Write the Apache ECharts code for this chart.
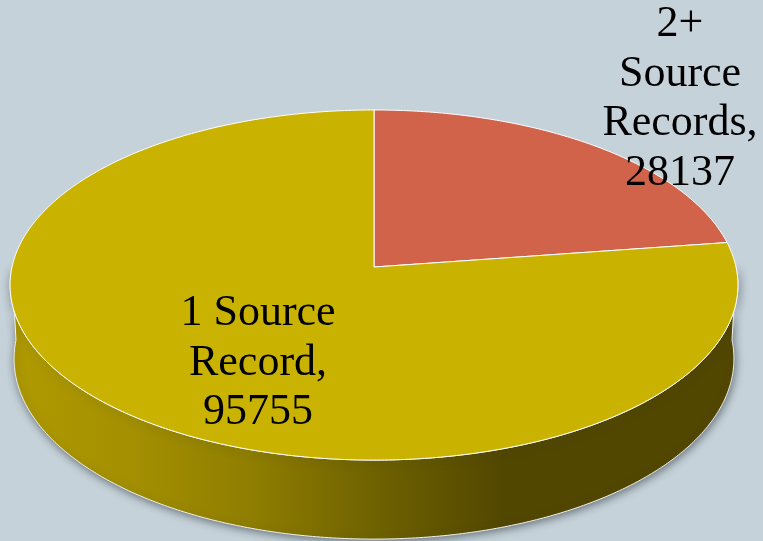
<!DOCTYPE html>
<html>
<head>
<meta charset="utf-8">
<style>html,body{margin:0;padding:0;background:#c6d2d9}#chart{width:763px;height:541px}</style>
<script src="https://cdn.jsdelivr.net/npm/echarts@6/dist/echarts.min.js"></script>
</head>
<body>
<div id="chart"></div>
<script>
// Record counts by number of contributing sources, clockwise from twelve o'clock
const categories = ['2+ Source Records', '1 Source Record'];
const recordCounts = [28137, 95755];
const sliceLabels = ['2+\nSource\nRecords,\n28137', '1 Source\nRecord,\n95755'];
const sliceColors = ['#d1634a', '#c9b300'];

// Perspective disc: screen geometry of the tilted pie
const disc = { cx: 374, apexY: 267, radius: 362, tilt: -0.103, slope: 145.7 };
const wall = { depth: 73.75, shrinkX: 0.989, stretchY: 1.03, midY: 285 };
const labelAnchors = [[680, 0], [258, 289]];

const total = recordCounts.reduce((a, b) => a + b, 0);
let running = 0;
const sliceData = recordCounts.map((v, i) => {
  const item = { name: categories[i], value: [v, running] };
  running += v;
  return item;
});

// Project a point on the rim (angle clockwise from the back of the disc) to the screen
function rim(angle, lower) {
  const u = Math.sin(angle), v = -Math.cos(angle);
  const d = 1 + disc.tilt * v;
  let x = disc.cx + disc.radius * u / d;
  let y = (disc.apexY + disc.slope * v) / d;
  if (lower) {
    x = disc.cx + (x - disc.cx) * wall.shrinkX;
    y = wall.midY + (y - wall.midY) * wall.stretchY + wall.depth;
  }
  return [x, y];
}

function arc(from, to, lower) {
  const n = Math.max(2, Math.ceil(Math.abs(to - from) / 0.01));
  const pts = [];
  for (let i = 0; i <= n; i++) pts.push(rim(from + (to - from) * i / n, lower));
  return pts;
}

const wallFill = {
  type: 'linear', global: true, x: 14, y: 0, x2: 734, y2: 0,
  colorStops: [
    { offset: 0, color: '#b09a00' },
    { offset: 0.17, color: '#a38f00' },
    { offset: 0.33, color: '#8f7e00' },
    { offset: 0.5, color: '#6f6200' },
    { offset: 0.68, color: '#524700' },
    { offset: 1, color: '#524700' }
  ]
};

function renderSlice(params, api) {
  const value = api.value(0), before = api.value(1);
  const a0 = before / total * Math.PI * 2;
  const a1 = (before + value) / total * Math.PI * 2;
  const children = [];

  // Side wall exists only where the slice covers the front half of the rim
  const f0 = Math.max(a0, Math.PI / 2), f1 = Math.min(a1, Math.PI * 1.5);
  if (f1 > f0) {
    children.push({
      type: 'polygon',
      z2: 1,
      shape: { points: arc(f0, f1, false).concat(arc(f1, f0, true)) },
      style: {
        fill: wallFill,
        stroke: '#f4f2e4',
        lineWidth: 1,
        shadowBlur: 8,
        shadowOffsetX: 1,
        shadowOffsetY: 2,
        shadowColor: 'rgba(50,60,70,0.65)'
      }
    });
  }

  // Top face
  children.push({
    type: 'polygon',
    z2: 2,
    shape: { points: [[disc.cx, disc.apexY]].concat(arc(a0, a1, false)) },
    style: { fill: sliceColors[params.dataIndex], stroke: '#ffffff', lineWidth: 1, lineJoin: 'round' }
  });

  const anchor = labelAnchors[params.dataIndex];
  children.push({
    type: 'text',
    z2: 5,
    x: anchor[0],
    y: anchor[1],
    style: {
      text: sliceLabels[params.dataIndex],
      font: '44px "Liberation Serif", serif',
      fill: '#000000',
      align: 'center',
      verticalAlign: 'top',
      lineHeight: 49.5
    }
  });
  return { type: 'group', children };
}

const chart = echarts.init(document.getElementById('chart'), null, { renderer: 'canvas' });
chart.setOption({
  animation: false,
  backgroundColor: '#c6d2d9',
  tooltip: { show: false },
  series: [{
    type: 'custom',
    coordinateSystem: 'none',
    clip: false,
    renderItem: renderSlice,
    data: sliceData
  }]
});
</script>
</body>
</html>
